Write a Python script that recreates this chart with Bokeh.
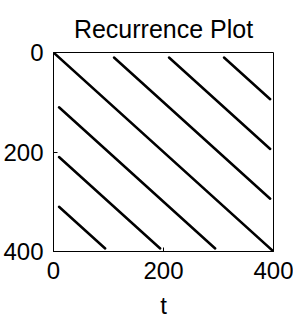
from bokeh.plotting import figure
from bokeh.models import Range1d, FixedTicker, ColumnDataSource
from bokeh.embed import file_html
from bokeh.resources import INLINE

# Recurrence line segments (start/end of each diagonal band), data units
x_start = [0, 110, 210, 310, 10, 10, 10]
y_start = [0, 10, 10, 10, 110, 210, 310]
x_end = [400, 394, 394, 394, 294, 194, 94]
y_end = [400, 294, 194, 94, 394, 394, 394]
ticks = [0, 200, 400]

FONT = "Liberation Sans"

src = ColumnDataSource(dict(x0=x_start, y0=y_start, x1=x_end, y1=y_end))

p = figure(frame_width=220, frame_height=199,
           x_range=Range1d(0, 400), y_range=Range1d(400, 0),
           output_backend="svg", toolbar_location=None,
           title="Recurrence Plot",
           min_border_left=52, min_border_right=20,
           min_border_top=52, min_border_bottom=58)

p.segment(x0="x0", y0="y0", x1="x1", y1="y1", source=src,
          line_color="black", line_width=2.5, line_cap="round")

p.grid.visible = False
p.outline_line_color = "black"
p.outline_line_width = 1
p.background_fill_color = "white"
p.border_fill_color = "white"

p.title.align = "center"
p.title.text_font = FONT
p.title.text_font_size = "25px"
p.title.text_font_style = "normal"
p.title.text_color = "black"
p.title.standoff = 19

for ax in (p.xaxis[0], p.yaxis[0]):
    ax.ticker = FixedTicker(ticks=ticks)
    ax.minor_tick_line_color = None
    ax.major_tick_in = 4
    ax.major_tick_out = 0
    ax.major_tick_line_color = "black"
    ax.axis_line_color = "black"
    ax.major_label_text_font = FONT
    ax.major_label_text_font_size = "24px"
    ax.major_label_text_color = "black"

p.yaxis[0].major_label_standoff = 10
p.xaxis[0].major_label_standoff = 10
p.xaxis[0].axis_label = "t"
p.xaxis[0].axis_label_text_font = FONT
p.xaxis[0].axis_label_text_font_size = "24px"
p.xaxis[0].axis_label_text_font_style = "normal"
p.xaxis[0].axis_label_text_color = "black"
p.xaxis[0].axis_label_standoff = 10

open("out.html", "w").write(file_html(p, INLINE))
